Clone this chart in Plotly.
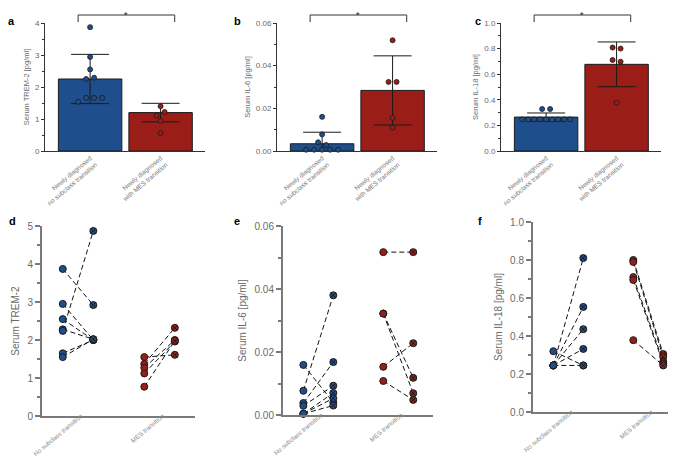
import plotly.graph_objects as go

W, H = 676, 458
BLUE = '#1f4e8c'
RED = '#9b1d18'
EDGE = '#1b1b1b'
AXIS_DARK = '#333333'
AXIS_GREY = '#7a7a7a'
TXT = '#6a6a6a'
FONT = 'Liberation Sans'

bar_labels = ['Newly diagnosed<br>no subclass transition', 'Newly diagnosed<br>with MES transition']
pair_labels = ['No subclass transition', 'MES transition']

# a - serum TREM-2, mean / SD and single values
a_mean = [2.25, 1.20]
a_sd = [0.77, 0.29]
a_no = [3.87, 2.94, 2.55, 2.25, 2.29, 1.54, 1.66, 1.66, 1.66]
a_mes = [1.40, 1.11, 1.22, 0.94, 0.56]

# b - serum IL-6
b_mean = [0.0034, 0.0284]
b_sd = [0.0054, 0.0162]
b_no = [0.0160, 0.0078, 0.0041, 0.0028, 0.0006, 0.0006, 0.0006, 0.0006, 0.0006]
b_mes = [0.0519, 0.0324, 0.0324, 0.0155, 0.0110]

# c - serum IL-18
c_mean = [0.265, 0.677]
c_sd = [0.032, 0.175]
c_no = [0.328, 0.328, 0.247, 0.247, 0.247, 0.247, 0.247, 0.247, 0.247, 0.247, 0.247]
c_mes = [0.808, 0.800, 0.711, 0.698, 0.378]

# d - TREM-2 paired (before -> after)
d_no_pre = [3.87, 2.95, 2.55, 2.28, 2.24, 1.65, 1.55]
d_no_post = [2.92, 2.00, 2.00, 2.02, 4.87, 2.00, 2.02]
d_mes_pre = [1.55, 1.37, 1.27, 1.12, 0.77]
d_mes_post = [1.61, 2.32, 2.00, 1.96, 1.98]

# e - IL-6 paired
e_no_pre = [0.0159, 0.0077, 0.0038, 0.0029, 0.0004, 0.0004, 0.0004]
e_no_post = [0.0040, 0.0380, 0.0168, 0.0093, 0.0070, 0.0053, 0.0030]
e_mes_pre = [0.0517, 0.0322, 0.0322, 0.0153, 0.0108]
e_mes_post = [0.0517, 0.0118, 0.0069, 0.0228, 0.0048]

# f - IL-18 paired
f_no_pre = [0.245, 0.245, 0.245, 0.320, 0.245, 0.245]
f_no_post = [0.810, 0.553, 0.436, 0.245, 0.332, 0.245]
f_mes_pre = [0.800, 0.790, 0.710, 0.695, 0.378]
f_mes_post = [0.305, 0.290, 0.265, 0.255, 0.245]

BAR_W = 0.9
XR_TOP = [-0.64, 1.63]
XR_BOT = [-0.68, 4.33]
G2 = 2.67   # x of second group in paired plots
TOP_Y = (143, 15)
PX_PER_X = 160 / (XR_TOP[1] - XR_TOP[0])


def swarm(vals, px_per_y, center):
    # spread points that overlap vertically into a centered row
    order = sorted(range(len(vals)), key=lambda i: vals[i])
    groups = [[order[0]]]
    for i in order[1:]:
        if (vals[i] - vals[groups[-1][-1]]) * px_per_y < 4.5:
            groups[-1].append(i)
        else:
            groups.append([i])
    xs = [center] * len(vals)
    for g in groups:
        g = sorted(g)
        n = len(g)
        if n == 1:
            continue
        step = min(8, 48 / (n - 1))
        for k, i in enumerate(g):
            xs[i] = center + (k - (n - 1) / 2) * step / PX_PER_X
    return xs


fig = go.Figure()
layout = {}
annotations = []
shapes = []

top_panels = [
    ('a', 1, (37, 197), 4, 1, 0.5, '', 'Serum TREM-2 [pg/ml]', a_mean, a_sd, a_no, a_mes),
    ('b', 2, (269, 429), 0.06, 0.02, 0.01, '.2f', 'Serum IL-6 [pg/ml]', b_mean, b_sd, b_no, b_mes),
    ('c', 3, (493, 653), 1.0, 0.2, 0.1, '.1f', 'Serum IL-18 [pg/ml]', c_mean, c_sd, c_no, c_mes),
]

for letter, i, (x0, x1), ytop, dt, mdt, fmt, title, mean, sd, no, mes in top_panels:
    xa = 'x' if i == 1 else 'x%d' % i
    ya = 'y' if i == 1 else 'y%d' % i
    px_per_y = (TOP_Y[0] - TOP_Y[1]) / ytop
    fig.add_trace(go.Bar(
        x=[0, 1], y=mean, width=BAR_W, xaxis=xa, yaxis=ya,
        marker=dict(color=[BLUE, RED], line=dict(color=EDGE, width=1)),
        error_y=dict(type='data', array=sd, color=EDGE, thickness=1, width=19),
        showlegend=False))
    for vals, c, col in [(no, 0, BLUE), (mes, 1, RED)]:
        fig.add_trace(go.Scatter(
            x=swarm(vals, px_per_y, c), y=vals, mode='markers', xaxis=xa, yaxis=ya,
            marker=dict(size=5, color=col, line=dict(color=EDGE, width=0.8)),
            showlegend=False, cliponaxis=False))
    key = '' if i == 1 else str(i)
    layout['xaxis' + key] = dict(
        domain=[x0 / W, x1 / W], range=XR_TOP, anchor=ya,
        tickvals=[0, 1], ticktext=bar_labels, tickangle=-40,
        tickfont=dict(size=6.5, color='#7a7a7a'), ticks='',
        showline=True, linecolor=AXIS_DARK, linewidth=1,
        showgrid=False, zeroline=False, automargin=False)
    layout['yaxis' + key] = dict(
        domain=[1 - TOP_Y[0] / H, 1 - TOP_Y[1] / H], range=[0, ytop], anchor=xa,
        dtick=dt, tickformat=fmt, ticks='outside', ticklen=3, tickwidth=1, tickcolor=AXIS_DARK,
        minor=dict(dtick=mdt, ticks='outside', ticklen=2, tickcolor=AXIS_DARK),
        tickfont=dict(size=8, color=TXT),
        title=dict(text=title, font=dict(size=7.5, color=TXT), standoff=4),
        showline=True, linecolor=AXIS_DARK, linewidth=1,
        showgrid=False, zeroline=False, automargin=False)
    # significance bracket
    shapes.append(dict(type='path', xref=xa, yref='paper',
                       path='M -0.17 %f L -0.17 %f L 1.2 %f L 1.2 %f' % (
                           1 - 14 / H, 1 - 7 / H, 1 - 7 / H, 1 - 14 / H),
                       line=dict(color=AXIS_DARK, width=1)))
    annotations.append(dict(text='*', x=0.515, xref=xa, y=1 - 0.5 / H, yref='paper',
                            showarrow=False, font=dict(size=9, color='#222222'),
                            xanchor='center', yanchor='top'))

bottom_panels = [
    ('d', 4, (34, 187), (408, 218), 5, 1, 0.5, '', 'Serum TREM-2',
     d_no_pre, d_no_post, d_mes_pre, d_mes_post),
    ('e', 5, (275, 425), (407, 218), 0.06, 0.02, 0.01, '.2f', 'Serum IL-6 [pg/ml]',
     e_no_pre, e_no_post, e_mes_pre, e_mes_post),
    ('f', 6, (525, 675), (404, 214), 1.0, 0.2, 0.1, '.1f', 'Serum IL-18 [pg/ml]',
     f_no_pre, f_no_post, f_mes_pre, f_mes_post),
]

for letter, i, (x0, x1), (yb, yt), ytop, dt, mdt, fmt, title, npre, npost, mpre, mpost in bottom_panels:
    xa, ya = 'x%d' % i, 'y%d' % i
    for pre, post, g, col in [(npre, npost, 0, BLUE), (mpre, mpost, G2, RED)]:
        lx, ly = [], []
        for p, q in zip(pre, post):
            lx += [g, g + 1, None]
            ly += [p, q, None]
        fig.add_trace(go.Scatter(x=lx, y=ly, mode='lines', xaxis=xa, yaxis=ya,
                                 line=dict(color='#111111', width=1, dash='5px,3px'),
                                 showlegend=False, cliponaxis=False))
        fig.add_trace(go.Scatter(x=[g] * len(pre), y=pre, mode='markers', xaxis=xa, yaxis=ya,
                                 marker=dict(size=7, color=col, line=dict(color=EDGE, width=1)),
                                 showlegend=False, cliponaxis=False))
        fig.add_trace(go.Scatter(x=[g + 1] * len(post), y=post, mode='markers', xaxis=xa, yaxis=ya,
                                 marker=dict(size=7, color=col, symbol='circle-x',
                                             line=dict(color=EDGE, width=1)),
                                 showlegend=False, cliponaxis=False))
    layout['xaxis%d' % i] = dict(
        domain=[x0 / W, x1 / W], range=XR_BOT, anchor=ya,
        tickvals=[0.5, G2 + 0.5], ticktext=pair_labels, tickangle=-40,
        tickfont=dict(size=6.3, color='#8a8a8a'), ticks='',
        ticklabelstandoff=-8, ticklabelshift=3,
        showline=True, linecolor=AXIS_GREY, linewidth=2,
        showgrid=False, zeroline=False, automargin=False)
    layout['yaxis%d' % i] = dict(
        domain=[1 - yb / H, 1 - yt / H], range=[0, ytop], anchor=xa,
        dtick=dt, tickformat=fmt, ticks='outside', ticklen=5, tickwidth=1.5, tickcolor=AXIS_GREY,
        minor=dict(dtick=mdt, ticks='outside', ticklen=3, tickwidth=1.5, tickcolor=AXIS_GREY),
        tickfont=dict(size=10, color=TXT),
        title=dict(text=title, font=dict(size=10, color=TXT), standoff=6),
        showline=True, linecolor=AXIS_GREY, linewidth=2,
        showgrid=False, zeroline=False, automargin=False)

# panel letters
for letter, px, py in [('a', 3, 13), ('b', 229, 13), ('c', 470, 13),
                       ('d', 4, 213), ('e', 229, 213), ('f', 472, 213)]:
    annotations.append(dict(text='<b>%s</b>' % letter, x=px / W, y=1 - py / H,
                            xref='paper', yref='paper', showarrow=False,
                            font=dict(size=11, color='black'),
                            xanchor='center', yanchor='middle'))

fig.update_layout(**layout)
fig.update_layout(
    width=W, height=H, margin=dict(l=0, r=0, t=0, b=0),
    paper_bgcolor='white', plot_bgcolor='white', template='none',
    font=dict(family=FONT, color=TXT),
    annotations=annotations, shapes=shapes, showlegend=False, bargap=0.1)

fig.write_html('out.html')
